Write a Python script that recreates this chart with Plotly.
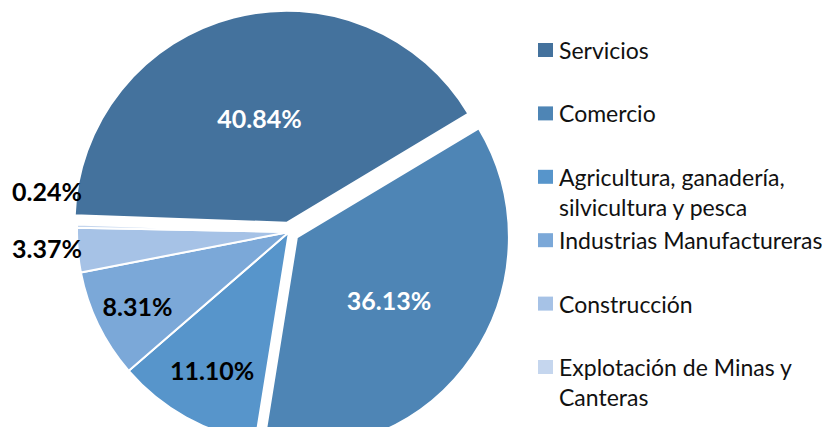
import plotly.graph_objects as go

# datos del gráfico
sectores = [
    "Servicios",
    "Comercio",
    "Agricultura, ganadería,<br>silvicultura y pesca",
    "Industrias Manufactureras",
    "Construcción",
    "Explotación de Minas y<br>Canteras",
]
porcentajes = [40.84, 36.13, 11.10, 8.31, 3.37, 0.24]
colores = ["#44729D", "#4E85B5", "#5795CB", "#7BA8D8", "#A6C2E6", "#C5D6EE"]
color_texto = ["white", "white", "black", "black", "black", "black"]
posicion_texto = ["inside", "inside", "inside", "inside", "none", "none"]
separacion = [0.045, 0.045, 0, 0, 0, 0]

# la página tiene 8px de margen, así que el gráfico se desplaza (8, 8)
W, H = 830, 470
fuente = "Lato, 'Open Sans', sans-serif"

fig = go.Figure(go.Pie(
    labels=sectores,
    values=porcentajes,
    sort=False,
    direction="clockwise",
    rotation=272,
    pull=separacion,
    marker=dict(colors=colores, line=dict(color="white", width=2)),
    texttemplate="%{value:.2f}%",
    textposition=posicion_texto,
    insidetextorientation="horizontal",
    textfont=dict(family=fuente, size=25, color=color_texto, weight="bold"),
    domain=dict(x=[0, 0.6771], y=[0.052, 0.9948]),
    showlegend=False,
    automargin=False,
    hoverinfo="label+value",
))

# etiquetas de las dos porciones pequeñas, a la izquierda del pastel
for v, yc in zip(porcentajes[4:][::-1], [183, 240]):
    fig.add_annotation(xref="paper", yref="paper", x=76 / W, y=1 - yc / H,
                       xanchor="right", yanchor="middle", showarrow=False,
                       text=f"{v:.2f}%",
                       font=dict(family=fuente, size=25, color="black", weight="bold"))

# leyenda manual, filas espaciadas como en el original
y0, paso = 42, 63.4
for i, (nombre, color) in enumerate(zip(sectores, colores)):
    yc = y0 + paso * i
    fig.add_shape(type="rect", xref="paper", yref="paper",
                  x0=530 / W, x1=545 / W,
                  y0=1 - (yc + 7) / H, y1=1 - (yc - 7) / H,
                  fillcolor=color, line=dict(width=0))
    fig.add_annotation(xref="paper", yref="paper", x=549 / W, y=1 - (yc - 16) / H,
                       xanchor="left", yanchor="top", align="left", showarrow=False,
                       text=nombre, font=dict(family=fuente, size=23, color="#111111"))

fig.update_layout(
    width=W, height=H,
    margin=dict(l=0, r=0, t=0, b=0),
    paper_bgcolor="white",
    plot_bgcolor="white",
)

fig.write_html("out.html")
